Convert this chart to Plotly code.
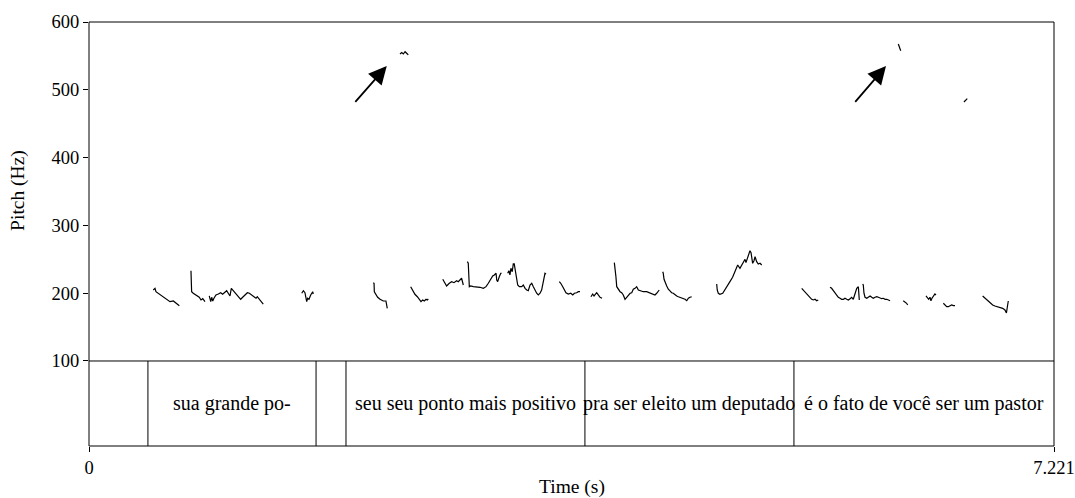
import plotly.graph_objects as go

# ---- pitch track (s, Hz); each inner list is one voiced stretch ----
PITCH_TIME = [
    [0.481, 0.494, 0.501, 0.519, 0.544, 0.581, 0.606, 0.631, 0.651, 0.676],
    [0.763, 0.768, 0.780, 0.806, 0.825, 0.838, 0.851, 0.868],
    [0.900, 0.911, 0.918, 0.926, 0.935, 0.950, 0.968, 0.985, 1.000, 1.018, 1.030, 1.042, 1.055, 1.065, 1.080,
     1.100, 1.117, 1.135, 1.150, 1.167, 1.185, 1.200, 1.217, 1.235, 1.250, 1.259, 1.274, 1.289, 1.304],
    [1.592, 1.604, 1.616, 1.629, 1.636, 1.646, 1.659, 1.666, 1.674, 1.678],
    [2.127, 2.133, 2.135, 2.148, 2.160, 2.178, 2.202, 2.222, 2.228, 2.232],
    [2.327, 2.340, 2.352, 2.365, 2.377, 2.389],
    [2.407, 2.422, 2.439, 2.457, 2.472, 2.484, 2.497, 2.509, 2.522, 2.531, 2.539],
    [2.647, 2.664, 2.676, 2.696, 2.714, 2.731, 2.751, 2.763, 2.776, 2.788, 2.801],
    [2.831, 2.838, 2.846, 2.856, 2.876, 2.901, 2.926, 2.951, 2.971, 2.988, 3.001, 3.021, 3.033, 3.046, 3.051,
     3.058, 3.070, 3.081, 3.088],
    [3.133, 3.142, 3.150, 3.157, 3.167, 3.175, 3.182, 3.190, 3.200, 3.208, 3.220, 3.238, 3.250, 3.263, 3.276,
     3.287, 3.300, 3.313, 3.325, 3.337, 3.350, 3.362, 3.375, 3.387, 3.400, 3.412, 3.420],
    [3.519, 3.530, 3.545, 3.554, 3.569, 3.587, 3.605, 3.620, 3.632, 3.649, 3.661, 3.674],
    [3.756, 3.769, 3.779, 3.791, 3.799, 3.811, 3.824, 3.839],
    [3.931, 3.936, 3.943, 3.949, 3.961, 3.974, 3.986, 3.998, 4.011, 4.024, 4.036, 4.049, 4.061, 4.073, 4.086,
     4.098, 4.111, 4.123, 4.148, 4.173, 4.198, 4.223, 4.235, 4.248, 4.260, 4.267],
    [4.293, 4.297, 4.303, 4.312, 4.323, 4.335, 4.348, 4.360, 4.372, 4.385, 4.398, 4.410, 4.423, 4.435, 4.448,
     4.460, 4.473, 4.485, 4.497, 4.510],
    [4.697, 4.701, 4.709, 4.721, 4.742, 4.759, 4.776, 4.796, 4.816, 4.834, 4.847, 4.854, 4.871, 4.884, 4.896,
     4.909, 4.916, 4.926, 4.939, 4.946, 4.954, 4.961, 4.966, 4.976, 4.984, 4.996, 5.008, 5.021, 5.034],
    [5.333, 5.345, 5.365, 5.382, 5.395, 5.408, 5.420, 5.433, 5.445, 5.457],
    [5.545, 5.557, 5.570, 5.582, 5.595, 5.607, 5.620, 5.632, 5.645, 5.657, 5.670, 5.682, 5.695, 5.707, 5.719,
     5.732, 5.745, 5.757, 5.764],
    [5.789, 5.794, 5.799, 5.807, 5.820, 5.832, 5.845, 5.857, 5.869, 5.882, 5.895, 5.907, 5.919, 5.932, 5.944,
     5.957, 5.970, 5.981, 5.994],
    [6.056, 6.065, 6.074],
    [6.093, 6.106, 6.118, 6.126],
    [6.263, 6.273, 6.283, 6.293, 6.300, 6.308, 6.318, 6.330, 6.338],
    [6.393, 6.405, 6.418, 6.430, 6.443, 6.455, 6.468, 6.480],
    [6.547, 6.560, 6.572],
    [6.687, 6.705, 6.722, 6.742, 6.762, 6.779, 6.797, 6.817, 6.837, 6.854, 6.865, 6.873, 6.879],
]

PITCH_HZ = [
    [204.7, 207.2, 202.2, 199.9, 195.9, 191.0, 187.5, 188.5, 185.1, 181.6],
    [233.2, 202.2, 199.9, 195.9, 194.0, 190.0, 191.9, 187.5],
    [195.9, 187.5, 194.0, 188.5, 192.5, 197.4, 198.8, 200.7, 198.4, 202.2, 203.7, 199.9, 195.9, 207.2, 203.7,
     198.8, 194.8, 191.0, 194.0, 197.4, 200.7, 199.9, 197.4, 195.9, 192.5, 194.8, 191.0, 187.5, 184.0],
    [199.9, 203.7, 200.7, 187.5, 192.5, 191.0, 197.4, 199.9, 202.2, 198.8],
    [215.5, 214.6, 202.2, 197.4, 194.0, 191.0, 188.5, 188.5, 182.6, 177.7],
    [552.8, 554.8, 552.8, 556.2, 553.9, 551.4],
    [209.6, 203.7, 198.4, 194.8, 191.0, 187.5, 190.0, 188.5, 191.0, 190.0, 191.5],
    [220.5, 214.6, 210.6, 214.6, 217.0, 215.5, 218.4, 217.0, 220.5, 222.0, 212.1],
    [246.5, 244.1, 209.6, 210.6, 209.6, 209.6, 208.7, 207.2, 209.6, 214.6, 219.5, 225.4, 226.9, 229.4, 219.5,
     217.0, 224.3, 229.4, 229.4],
    [229.4, 233.2, 226.9, 236.7, 231.7, 243.1, 243.1, 234.2, 224.3, 212.1, 209.6, 209.6, 212.1, 207.2, 204.7,
     203.7, 212.1, 214.6, 209.6, 204.7, 199.9, 197.4, 199.9, 204.7, 219.5, 229.4, 228.3],
    [217.0, 214.6, 209.6, 205.8, 200.7, 198.8, 199.9, 197.4, 199.9, 200.7, 202.2, 202.2],
    [194.8, 198.8, 195.9, 199.9, 200.7, 197.4, 194.0, 192.5],
    [245.0, 239.1, 224.3, 209.6, 205.8, 202.2, 200.7, 197.4, 191.0, 194.0, 197.4, 199.9, 200.7, 205.8, 207.2,
     209.6, 204.7, 203.7, 202.2, 202.2, 199.9, 198.8, 197.4, 199.9, 203.7, 204.7],
    [231.7, 229.4, 220.5, 214.6, 210.6, 205.8, 202.2, 200.7, 199.9, 197.4, 195.9, 194.8, 194.0, 192.5, 192.5,
     191.0, 188.9, 192.5, 194.0, 194.8],
    [213.6, 204.7, 199.9, 198.4, 199.9, 204.7, 210.6, 217.0, 223.5, 231.7, 239.1, 241.6, 236.7, 241.6, 246.5,
     250.0, 245.0, 251.5, 256.4, 262.7, 259.7, 249.0, 244.1, 247.9, 253.8, 246.5, 243.1, 244.1, 241.6],
    [207.2, 204.7, 199.9, 195.9, 194.8, 191.0, 190.0, 191.0, 188.9, 190.0],
    [208.7, 207.2, 203.7, 199.9, 195.9, 194.0, 192.5, 191.0, 191.0, 192.5, 191.0, 190.0, 191.9, 194.0, 191.0,
     199.9, 207.2, 209.6, 190.0],
    [213.6, 212.1, 199.9, 194.0, 192.5, 194.8, 195.9, 194.0, 192.5, 194.0, 194.8, 194.0, 192.5, 191.9, 192.5,
     191.0, 191.0, 190.0, 188.9],
    [567.6, 562.5, 557.7],
    [188.9, 187.5, 185.1, 182.6],
    [195.9, 192.5, 191.0, 194.0, 188.9, 192.5, 195.9, 198.8, 197.4],
    [185.1, 182.6, 180.1, 180.1, 181.1, 182.6, 181.6, 181.6],
    [482.0, 484.5, 487.0],
    [195.9, 192.5, 188.9, 185.1, 182.6, 181.1, 180.1, 179.2, 177.7, 175.2, 170.8, 181.1, 188.5],
]

# ---- text tier ----
TIER_BOUNDS = [0.0, 0.441, 1.699, 1.923, 3.711, 5.275, 7.221]
TIER_LABELS = ["", "sua grande po-", "", "seu seu ponto mais positivo",
               "pra ser eleito um deputado", "é o fato de você ser um pastor"]

# ---- arrows pointing at the octave-jump errors: (tail s, tail Hz, head s, head Hz) ----
ARROWS = [
    (1.983, 480.0, 2.228, 535.0),
    (5.724, 480.0, 5.964, 535.0),
]

T_MAX = 7.221
PITCH_TICKS = [100, 200, 300, 400, 500, 600]

FONT = "Times New Roman, Liberation Serif, DejaVu Serif, serif"
FS_TICK = 18.5
FS_TITLE = 19.5
FS_TIER = 20
TIER_FRAC = 0.2005

fig = go.Figure()

for ts, hz in zip(PITCH_TIME, PITCH_HZ):
    fig.add_trace(go.Scatter(x=ts, y=hz, mode="lines",
                             line=dict(color="black", width=1.2),
                             showlegend=False, hoverinfo="skip",
                             xaxis="x", yaxis="y"))

# invisible trace to bring the tier axis into the layout
fig.add_trace(go.Scatter(x=[0, T_MAX], y=[0, 1], mode="markers",
                         marker=dict(opacity=0), showlegend=False,
                         hoverinfo="skip", xaxis="x", yaxis="y2"))

shapes = []
# outer frame
shapes.append(dict(type="rect", xref="paper", yref="paper", x0=0, x1=1, y0=0, y1=1,
                   line=dict(color="black", width=1)))
# separator between pitch panel and tier
shapes.append(dict(type="line", xref="paper", yref="paper", x0=0, x1=1,
                   y0=TIER_FRAC, y1=TIER_FRAC, line=dict(color="black", width=1)))
# interval boundaries
for b in TIER_BOUNDS[1:-1]:
    shapes.append(dict(type="line", xref="x", yref="y2", x0=b, x1=b, y0=0, y1=1,
                       line=dict(color="black", width=1)))

annotations = []
for i, lab in enumerate(TIER_LABELS):
    if lab:
        annotations.append(dict(x=(TIER_BOUNDS[i] + TIER_BOUNDS[i + 1]) / 2, y=0.5,
                                xref="x", yref="y2", text=lab, showarrow=False,
                                font=dict(family=FONT, size=FS_TIER, color="black"),
                                xanchor="center", yanchor="middle"))

for tx, ty, hx, hy in ARROWS:
    annotations.append(dict(x=hx, y=hy, ax=tx, ay=ty, xref="x", yref="y",
                            axref="x", ayref="y", text="", showarrow=True,
                            arrowhead=2, arrowsize=2.0, arrowwidth=1.8,
                            arrowcolor="black"))

annotations.append(dict(text="Pitch (Hz)", textangle=-90, xref="paper", yref="paper",
                        x=-0.0736, y=0.604, showarrow=False, xanchor="center",
                        yanchor="middle", font=dict(family=FONT, size=FS_TITLE, color="black")))
annotations.append(dict(text="Time (s)", xref="paper", yref="paper",
                        x=0.5005, y=-0.0967, showarrow=False, xanchor="center",
                        yanchor="middle", font=dict(family=FONT, size=FS_TITLE, color="black")))

fig.update_layout(
    width=1075, height=498,
    margin=dict(l=89, r=21, t=22, b=52),
    paper_bgcolor="white", plot_bgcolor="white",
    font=dict(family=FONT, size=FS_TICK, color="black"),
    shapes=shapes, annotations=annotations,
    xaxis=dict(range=[0, T_MAX], anchor="y2", showgrid=False, zeroline=False,
               tickmode="array", tickvals=[0, T_MAX], ticktext=["0", "7.221"],
               ticks="outside", ticklen=5, tickcolor="black", tickwidth=1,
               showline=False, automargin=False,
               tickfont=dict(family=FONT, size=FS_TICK, color="black")),
    yaxis=dict(domain=[TIER_FRAC, 1], range=[100, 600], showgrid=False, zeroline=False,
               tickmode="array", tickvals=PITCH_TICKS, ticks="outside", ticklen=5,
               tickcolor="black", tickwidth=1, showline=False, automargin=False,
               tickfont=dict(family=FONT, size=FS_TICK, color="black")),
    yaxis2=dict(domain=[0, TIER_FRAC], range=[0, 1], showgrid=False, zeroline=False,
                showticklabels=False, ticks="", showline=False, automargin=False),
)

fig.write_html("out.html")
